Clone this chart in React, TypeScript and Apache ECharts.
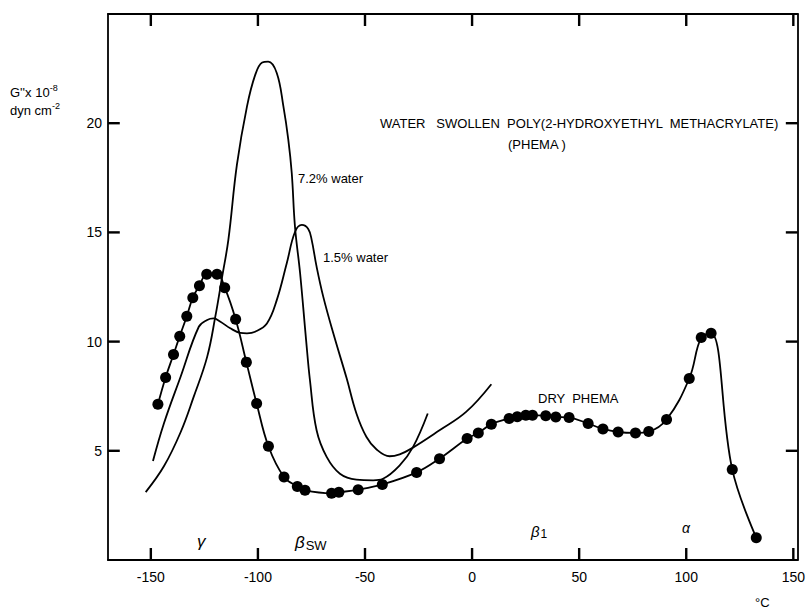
import React, { useEffect, useRef } from "react";
import * as echarts from "echarts";

const xTicks = [-150, -100, -50, 0, 50, 100, 150];
const yTicks = [5, 10, 15, 20];

// Dry PHEMA (measured points, filled circles)
const dryPhema: [number, number][] = [
  [-146.7, 7.13], [-143.1, 8.36], [-139.4, 9.41], [-136.5, 10.25], [-133.2, 11.16],
  [-130.4, 12.01], [-127.3, 12.56], [-123.9, 13.08], [-119.1, 13.08], [-115.5, 12.47],
  [-110.4, 11.02], [-105.4, 9.06], [-100.6, 7.17], [-95.1, 5.21], [-87.8, 3.8],
  [-81.6, 3.37], [-78.0, 3.19], [-65.6, 3.06], [-62.2, 3.1], [-53.2, 3.22],
  [-41.9, 3.46], [-25.9, 4.01], [-15.2, 4.64], [-2.3, 5.56], [2.9, 5.82],
  [9.0, 6.22], [17.3, 6.48], [21.1, 6.56], [25.1, 6.63], [28.2, 6.63],
  [34.4, 6.6], [39.1, 6.55], [45.3, 6.52], [54.2, 6.25], [61.1, 6.0],
  [68.2, 5.86], [76.3, 5.82], [82.5, 5.88], [90.8, 6.43], [101.4, 8.31],
  [107.0, 10.19], [111.6, 10.38], [121.5, 4.14], [132.7, 1.02],
];

// 7.2 % water (curve)
const water72: [number, number][] = [
  [-152.4, 3.11], [-143.9, 4.29], [-136.1, 5.85], [-130.0, 7.47], [-123.7, 9.3],
  [-119.9, 11.14], [-116.7, 12.97], [-113.8, 14.66], [-109.8, 18.1], [-105.1, 20.77],
  [-101.3, 22.2], [-98.0, 22.78], [-95.2, 22.82], [-91.2, 22.3], [-88.1, 20.77],
  [-85.8, 19.24], [-84.2, 17.72], [-82.7, 15.27], [-80.3, 13.13], [-77.5, 10.07],
  [-75.7, 8.23], [-72.6, 5.94], [-67.9, 4.72], [-61.7, 3.95], [-54.0, 3.68],
  [-46.2, 3.65], [-41.6, 3.72], [-33.8, 4.33], [-27.6, 5.17], [-20.7, 6.71],
];

// 1.5 % water (curve)
const water15: [number, number][] = [
  [-149.0, 4.53], [-143.9, 6.25], [-136.1, 8.39], [-127.6, 10.68], [-123.7, 10.99],
  [-120.7, 11.06], [-117.5, 10.91], [-112.9, 10.61], [-108.2, 10.4], [-105.1, 10.38],
  [-101.3, 10.45], [-95.8, 10.83], [-91.2, 11.9], [-86.5, 13.6], [-82.7, 15.02],
  [-79.5, 15.34], [-76.5, 15.16], [-74.9, 14.66], [-72.6, 13.43], [-69.5, 12.06],
  [-64.8, 10.38], [-58.6, 8.33], [-54.0, 6.71], [-49.3, 5.63], [-44.7, 5.07],
  [-38.5, 4.75], [-33.8, 4.84], [-28.4, 5.1], [-15.2, 5.94], [-2.8, 6.78], [9.0, 8.05],
];

const X_MIN = -170;
const X_MAX = 152;
const Y_MIN = 0;
const Y_MAX = 25;

const FONT = "Liberation Sans, Arial, sans-serif";

export default function App() {
  const ref = useRef<HTMLDivElement>(null);
  useEffect(() => {
    if (!ref.current) return;
    const chart = echarts.init(ref.current, null, { renderer: "svg" });
    const axisLine = { show: true, onZero: false, lineStyle: { color: "#000", width: 1.8 } };
    const txt = (text: string, x: number, y: number, size = 13, extra: any = {}) => ({
      type: "text",
      x,
      y,
      style: {
        text,
        font: `${size}px ${FONT}`,
        fill: "#000",
        textVerticalAlign: "middle",
        verticalAlign: "middle",
        ...extra,
      },
    });
    const richSup = (text: string, x: number, y: number) => ({
      type: "text",
      x,
      y,
      style: {
        text,
        rich: {
          a: { font: `13px ${FONT}`, fill: "#000", color: "#000" },
          s: { font: `9px ${FONT}`, fill: "#000", color: "#000", verticalAlign: "top", padding: [0, 0, 8, 0] },
        },
        textVerticalAlign: "middle",
        verticalAlign: "middle",
      },
    });
    const annotations: any[] = [
      richSup("{a|G''x 10}{s|-8}", 10, 92),
      richSup("{a|dyn cm}{s|-2}", 10, 110),
      txt("WATER   SWOLLEN  POLY(2-HYDROXYETHYL  METHACRYLATE)", 380, 123, 13),
      txt("(PHEMA )", 508, 144, 13),
      txt("7.2% water", 298, 178, 13),
      txt("1.5% water", 323, 257, 13),
      txt("DRY  PHEMA", 538, 398, 13),
      txt("γ", 197, 541, 17, { font: `italic 17px ${FONT}` }),
      {
        type: "text",
        x: 295,
        y: 542,
        style: {
          text: "{b|β}{s|SW}",
          rich: {
            b: { font: `italic 17px ${FONT}`, fill: "#000", color: "#000" },
            s: { font: `13px ${FONT}`, fill: "#000", color: "#000", padding: [6, 0, 0, 1] },
          },
          textVerticalAlign: "middle",
          verticalAlign: "middle",
        },
      },
      {
        type: "text",
        x: 531,
        y: 531,
        style: {
          text: "{b|β}{s|1}",
          rich: {
            b: { font: `italic 15px ${FONT}`, fill: "#000", color: "#000" },
            s: { font: `12px ${FONT}`, fill: "#000", color: "#000", padding: [6, 0, 0, 1] },
          },
          textVerticalAlign: "middle",
          verticalAlign: "middle",
        },
      },
      txt("α", 682, 528, 14, { font: `italic 14px ${FONT}` }),
      txt("°C", 755, 602, 13),
    ];

    // Inward tick marks as short two-point line series in axis units
    const X_TICK_LEN = 0.55; // in y units (≈12 px)
    const Y_TICK_LEN = 5.5; // in x units (≈12 px)
    const tickSeries: any[] = [];
    const tickLine = (data: number[][]) => ({
      type: "line",
      data,
      symbol: "none",
      silent: true,
      clip: false,
      lineStyle: { color: "#000", width: 2.4 },
      z: 6,
    });
    xTicks.forEach((v) => {
      tickSeries.push(tickLine([[v, Y_MIN], [v, Y_MIN + X_TICK_LEN]]));
      tickSeries.push(tickLine([[v, Y_MAX], [v, Y_MAX - X_TICK_LEN]]));
    });
    yTicks.forEach((v) => {
      tickSeries.push(tickLine([[X_MIN, v], [X_MIN + Y_TICK_LEN, v]]));
      tickSeries.push(tickLine([[X_MAX, v], [X_MAX - Y_TICK_LEN, v]]));
    });

    chart.setOption({
      animation: false,
      backgroundColor: "#fff",
      grid: { left: 108, right: 8, top: 14, bottom: 49 },
      xAxis: [
        {
          type: "value",
          position: "bottom",
          min: X_MIN,
          max: X_MAX,
          splitLine: { show: false },
          axisLine,
          axisTick: { show: false },
          axisLabel: { customValues: xTicks, color: "#000", fontSize: 14, fontFamily: FONT, margin: 10 },
        },
        {
          type: "value",
          position: "top",
          min: X_MIN,
          max: X_MAX,
          splitLine: { show: false },
          axisLine,
          axisTick: { show: false },
          axisLabel: { show: false },
        },
      ],
      yAxis: [
        {
          type: "value",
          position: "left",
          min: Y_MIN,
          max: Y_MAX,
          splitLine: { show: false },
          axisLine,
          axisTick: { show: false },
          axisLabel: { customValues: yTicks, color: "#000", fontSize: 14, fontFamily: FONT, margin: 6 },
        },
        {
          type: "value",
          position: "right",
          min: Y_MIN,
          max: Y_MAX,
          splitLine: { show: false },
          axisLine,
          axisTick: { show: false },
          axisLabel: { show: false },
        },
      ],
      series: [
        {
          name: "7.2% water",
          type: "line",
          data: water72,
          smooth: 0.4,
          showSymbol: false,
          symbol: "none",
          lineStyle: { color: "#000", width: 1.8 },
        },
        {
          name: "1.5% water",
          type: "line",
          data: water15,
          smooth: 0.4,
          showSymbol: false,
          symbol: "none",
          lineStyle: { color: "#000", width: 1.8 },
        },
        {
          name: "DRY PHEMA",
          type: "line",
          data: dryPhema,
          smooth: 0.4,
          symbol: "circle",
          symbolSize: 11,
          itemStyle: { color: "#000" },
          lineStyle: { color: "#000", width: 1.8 },
        },
        ...tickSeries,
      ],
      graphic: annotations,
    });
    return () => chart.dispose();
  }, []);
  return <div ref={ref} style={{ width: 808, height: 609, position: "absolute", left: 0, top: 0 }} />;
}
